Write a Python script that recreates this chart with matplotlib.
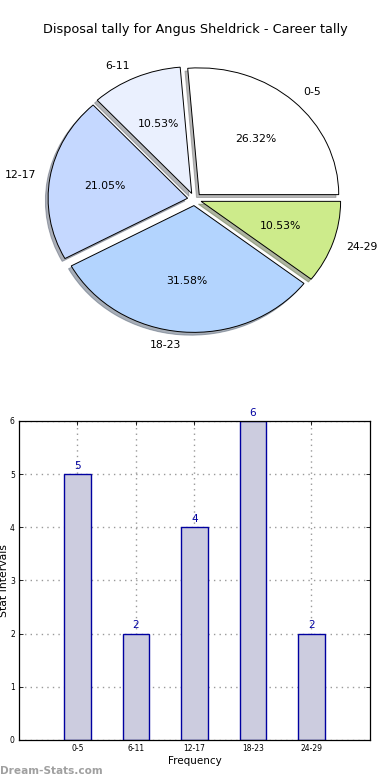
import numpy as np
import matplotlib
matplotlib.use('Agg')
import matplotlib.pyplot as plt

# data
labels = ['0-5', '6-11', '12-17', '18-23', '24-29']
counts = [5, 2, 4, 6, 2]
pie_colors = ['#ffffff', '#eaf0fe', '#c5d8ff', '#b3d4fe', '#cdeb8b']
title = 'Disposal tally for Angus Sheldrick - Career tally'

fig = plt.figure(figsize=(3.9, 7.8), dpi=100)

# pie (old style, not equal aspect)
ax1 = fig.add_axes([0.141, 0.582, 0.7154, 0.325])
wedges, texts, autotexts = ax1.pie(counts, labels=labels, colors=pie_colors,
                                   explode=[0.05] * len(counts), autopct='%.2f%%',
                                   shadow={'ox': -0.014, 'oy': -0.016, 'shade': 0.55},
                                   startangle=0,
                                   wedgeprops=dict(edgecolor='black', linewidth=0.7),
                                   textprops=dict(fontsize=7.8))
ax1.set_aspect('auto')
ax1.set_xlim(-1, 1)
ax1.set_ylim(-1, 1)
fig.text(0.5, 0.962, title, ha='center', va='center', fontsize=9.3)

# bar chart
ax2 = fig.add_axes([0.0487, 0.0513, 0.9, 0.409])
x = np.arange(len(labels))
ax2.bar(x, counts, width=0.45, color='#ccccdf', edgecolor='#0000a0', linewidth=1.0, zorder=2)
for xi, c in zip(x, counts):
    ax2.text(xi, c + 0.06, str(c), ha='center', va='bottom', color='#0000a0', fontsize=7.5)
ax2.set_xlim(-1, 5)
ax2.set_ylim(0, 6)
ax2.set_xticks(x)
ax2.set_xticklabels(labels, fontsize=5.5)
ax2.set_yticks(range(7))
ax2.tick_params(axis='y', labelsize=5.5)
ax2.tick_params(direction='in', top=True, right=True, length=3, width=0.6, pad=3)
ax2.grid(True, linestyle=(0, (1, 3)), color='#999999', linewidth=1.0, zorder=0)
ax2.set_axisbelow(True)
for s in ax2.spines.values():
    s.set_linewidth(0.9)
ax2.set_xlabel('Frequency', fontsize=7.5, labelpad=2)
fig.text(0.011, 0.256, 'Stat Intervals', rotation=90, ha='center', va='center', fontsize=7.8)

fig.text(0.0, 0.012, 'Dream-Stats.com', ha='left', va='center', fontsize=7.6,
         color='#a0a0a0', fontweight='bold')

fig.savefig('out.png', dpi=100)
